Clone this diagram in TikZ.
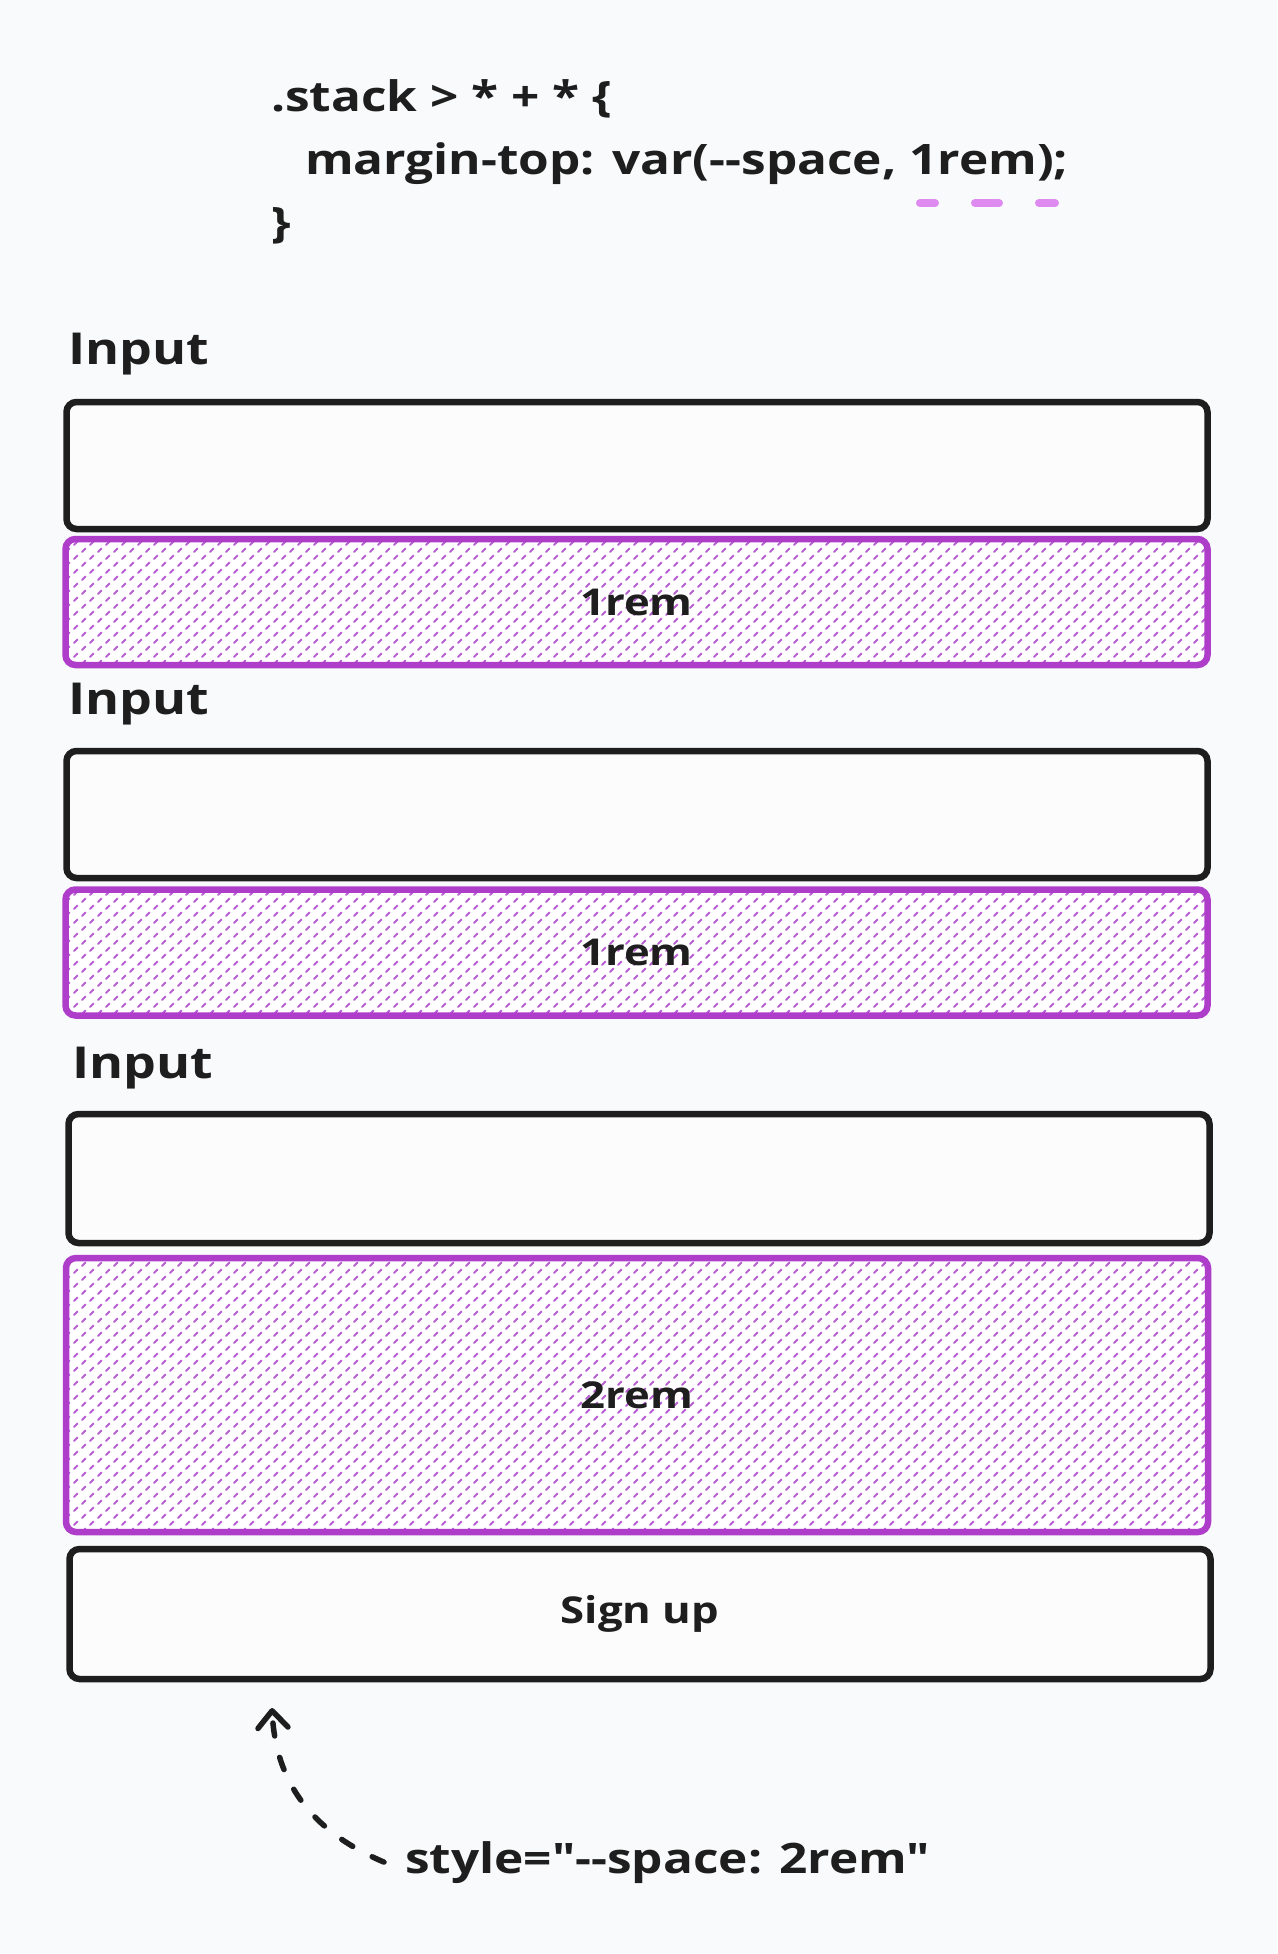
\documentclass[tikz,border=0pt]{standalone}
\usepackage{fontspec}
\setmainfont{Open Sans}[FakeStretch=1.18, Ligatures=TeXOff]
\usetikzlibrary{patterns.meta,arrows.meta}
\definecolor{bg}{HTML}{F9FAFB}
\definecolor{ink}{HTML}{1E1E1E}
\definecolor{grape}{HTML}{AE3EC9}
\definecolor{hatch}{HTML}{B75ED2}
\definecolor{pinkdash}{HTML}{DE8AF1}
\definecolor{boxfill}{HTML}{FCFCFD}
\tikzdeclarepattern{
  name=hatchx,
  type=uncolored,
  bottom left={(-1pt,-1pt)},
  top right={(17pt,15pt)},
  tile size={(16pt,14pt)},
  code={
    \draw[line width=2pt, line cap=round] (2pt,2pt) -- (5.5pt,5.5pt);
    \draw[line width=2pt, line cap=round] (10pt,9pt) -- (13.5pt,12.5pt);
  }
}
\begin{document}
\begin{tikzpicture}[x=1pt,y=-1pt,
  hand/.style={font=\bfseries\fontsize{42}{50}\selectfont, text=ink, inner sep=0pt, outer sep=0pt},
  lbl/.style={hand, font=\bfseries\fontsize{44}{52}\selectfont},
  inbox/.style={draw=ink, line width=6.5pt, rounded corners=10pt, fill=boxfill,
    minimum width=1141pt, minimum height=127pt, inner sep=0pt, outer sep=0pt,
    text=ink, font=\bfseries\fontsize{37}{45}\selectfont},
  gapbox/.style={draw=grape, line width=6.5pt, rounded corners=10pt,
    preaction={fill=white}, pattern=hatchx, pattern color=hatch,
    minimum width=1142pt, minimum height=126pt, inner sep=0pt, outer sep=0pt,
    text=ink, font=\bfseries\fontsize{37}{45}\selectfont},
  pinkline/.style={draw=pinkdash, line width=8pt, line cap=round},
  arrowst/.style={draw=ink, line width=5.5pt, line cap=round,
    dash pattern=on 13pt off 22pt,
    -{Straight Barb[length=17pt, width=30pt, line width=5.5pt, round]}}
]
\useasboundingbox[fill=bg] (0,0) rectangle (1277,1954);

% code
\node[hand, anchor=base west] (c1) at (271,111) {.stack > * + * \{};
\node[hand, anchor=base west] (c2) at (305,174) {margin-top: var(--space, 1rem);};
\node[hand, anchor=base west] (c3) at (271,237) {\}};
\draw[pinkline] (920,203) -- (935,203);
\draw[pinkline] (975,203) -- (999,203);
\draw[pinkline] (1039,203) -- (1055,203);

% stack
\node[lbl, anchor=base west] (l1) at (68,364) {Input};
\node[inbox] (in1) at (637,465.5) {};
\node[gapbox] (g1) at (636.5,602) {1rem};

\node[lbl, anchor=base west] (l2) at (68,714) {Input};
\node[inbox] (in2) at (637,814.5) {};
\node[gapbox] (g2) at (636.5,952.5) {1rem};

\node[lbl, anchor=base west] (l3) at (72,1078) {Input};
\node[inbox, minimum height=129pt] (in3) at (639,1178.5) {};
\node[gapbox, minimum height=274pt] (g3) at (637,1395) {2rem};

\node[inbox, minimum height=130pt] (btn) at (640,1614) {Sign up};

% annotation
\node[hand, anchor=base west] (note) at (405,1873) {style="--space: 2rem"};
\coordinate (tip) at (272,1708);
\draw[arrowst] ([xshift=-21pt]note.west) .. controls (320,1835) and (276,1790) .. (tip);
\end{tikzpicture}
\end{document}
